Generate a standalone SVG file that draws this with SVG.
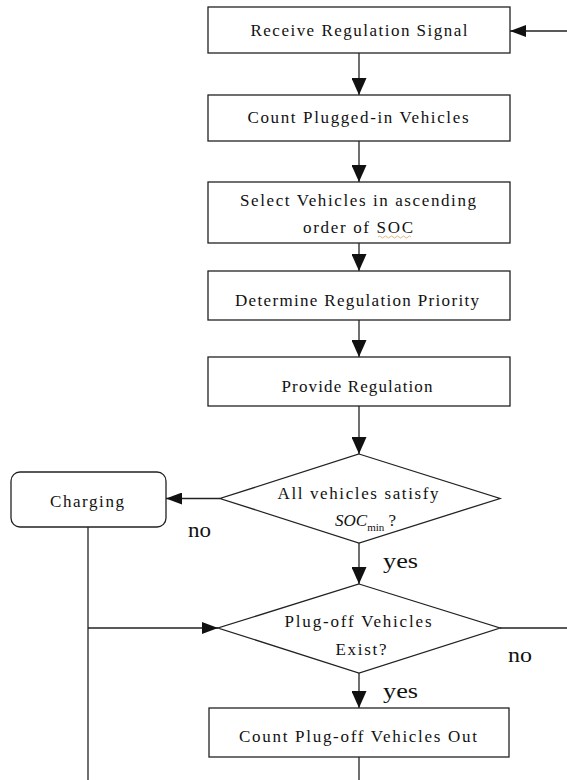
<svg xmlns="http://www.w3.org/2000/svg" width="567" height="780" viewBox="0 0 567 780">
<style>
  .box { fill: #fff; stroke: #222; stroke-width: 1.3; }
  .ln { fill: none; stroke: #222; stroke-width: 1.3; }
  .t { font-family: "Liberation Serif", "Times New Roman", serif; font-size: 17px; fill: #111; text-anchor: middle; }
  .lab { font-family: "Liberation Serif", "Times New Roman", serif; font-size: 22px; fill: #111; }
</style>
<defs>
  <marker id="av" markerUnits="userSpaceOnUse" markerWidth="17" markerHeight="15" refX="17" refY="7.5" orient="auto">
    <path d="M0,0 L17,7.5 L0,15 z" fill="#111"/>
  </marker>
  <marker id="ah" markerUnits="userSpaceOnUse" markerWidth="16" markerHeight="12" refX="16" refY="6" orient="auto">
    <path d="M0,0 L16,6 L0,12 z" fill="#111"/>
  </marker>
</defs>
<rect width="567" height="780" fill="#fff"/>

<g id="connectors">
  <line class="ln" x1="567" y1="31" x2="510" y2="31" marker-end="url(#ah)"/>
  <line class="ln" x1="359" y1="53" x2="359" y2="95" marker-end="url(#av)"/>
  <line class="ln" x1="359" y1="141" x2="359" y2="182" marker-end="url(#av)"/>
  <line class="ln" x1="359" y1="243" x2="359" y2="271" marker-end="url(#av)"/>
  <line class="ln" x1="359" y1="320" x2="359" y2="357" marker-end="url(#av)"/>
  <line class="ln" x1="359" y1="406" x2="359" y2="454" marker-end="url(#av)"/>
  <line class="ln" x1="220" y1="498.5" x2="166" y2="498.5" marker-end="url(#ah)"/>
  <line class="ln" x1="359" y1="543" x2="359" y2="584" marker-end="url(#av)"/>
  <line class="ln" x1="88" y1="527" x2="88" y2="780"/>
  <line class="ln" x1="88" y1="628" x2="218" y2="628" marker-end="url(#ah)"/>
  <line class="ln" x1="500" y1="628" x2="567" y2="628"/>
  <line class="ln" x1="359" y1="673" x2="359" y2="708" marker-end="url(#av)"/>
  <line class="ln" x1="359" y1="757" x2="359" y2="780"/>
  <text class="lab" x="188" y="537" textLength="23" lengthAdjust="spacingAndGlyphs">no</text>
  <text class="lab" x="383" y="568" textLength="35" lengthAdjust="spacingAndGlyphs">yes</text>
  <text class="lab" x="508" y="662" textLength="24" lengthAdjust="spacingAndGlyphs">no</text>
  <text class="lab" x="383" y="698" textLength="35" lengthAdjust="spacingAndGlyphs">yes</text>
</g>

<g id="receive">
  <rect class="box" x="208" y="7" width="302" height="46"/>
  <text class="t" x="359" y="36" textLength="217" lengthAdjust="spacing">Receive Regulation Signal</text>
</g>
<g id="count-plugged">
  <rect class="box" x="208" y="95" width="302" height="46"/>
  <text class="t" x="358" y="123" textLength="221" lengthAdjust="spacing">Count Plugged-in Vehicles</text>
</g>
<g id="select">
  <rect class="box" x="208" y="182" width="302" height="61"/>
  <text class="t" x="358" y="206" textLength="236" lengthAdjust="spacing">Select Vehicles in ascending</text>
  <text class="t" x="358" y="233" textLength="110" lengthAdjust="spacing">order of SOC</text>
  <path d="M378,237 q1.5,-2 3,0 t3,0 t3,0 t3,0 t3,0 t3,0 t3,0 t3,0 t3,0 t3,0 t3,0" fill="none" stroke="#d9a565" stroke-width="0.8"/>
</g>
<g id="determine">
  <rect class="box" x="208" y="271" width="302" height="49"/>
  <text class="t" x="357" y="306" textLength="244" lengthAdjust="spacing">Determine Regulation Priority</text>
</g>
<g id="provide">
  <rect class="box" x="208" y="357" width="302" height="49"/>
  <text class="t" x="357" y="392" textLength="151" lengthAdjust="spacing">Provide Regulation</text>
</g>
<g id="decision-soc">
  <polygon class="box" points="359,454 500,498.5 359,543 220,498.5"/>
  <text class="t" x="358" y="499" textLength="161" lengthAdjust="spacing">All vehicles satisfy</text>
  <text class="t" x="335" y="526" style="text-anchor:start"><tspan font-style="italic">SOC</tspan><tspan font-size="11" dy="5">min</tspan><tspan dy="-5"> ?</tspan></text>
</g>
<g id="charging">
  <rect class="box" x="11" y="472" width="155" height="55" rx="9"/>
  <text class="t" x="87" y="507" textLength="74" lengthAdjust="spacing">Charging</text>
</g>
<g id="decision-plugoff">
  <polygon class="box" points="359,584 500,628 359,673 218,628"/>
  <text class="t" x="358" y="627" textLength="147" lengthAdjust="spacing">Plug-off Vehicles</text>
  <text class="t" x="361" y="655" textLength="51" lengthAdjust="spacing">Exist?</text>
</g>
<g id="count-plugoff">
  <rect class="box" x="209" y="708" width="300" height="49"/>
  <text class="t" x="358" y="742" textLength="238" lengthAdjust="spacing">Count Plug-off Vehicles Out</text>
</g>
</svg>
